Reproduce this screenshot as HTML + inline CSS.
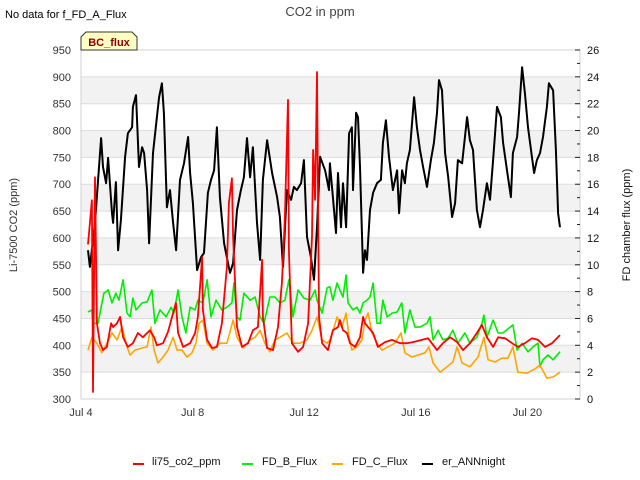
<!DOCTYPE html>
<html><head><meta charset="utf-8"><style>
body{margin:0;background:#fff;}
svg{display:block;font-family:"Liberation Sans","DejaVu Sans",sans-serif;}
</style></head><body>
<svg id="chart" width="640" height="480"></svg>
<script>
const blackDays=[4.25,4.32,4.50,4.72,4.79,4.90,4.97,5.11,5.15,5.25,5.33,5.43,5.58,5.68,5.83,5.86,5.97,6.08,6.19,6.26,6.37,6.44,6.58,6.72,6.80,6.90,6.97,7.08,7.19,7.30,7.41,7.55,7.69,7.84,7.91,8.01,8.16,8.30,8.41,8.55,8.66,8.77,8.87,8.98,9.13,9.27,9.34,9.45,9.59,9.73,9.84,9.95,10.06,10.16,10.31,10.42,10.52,10.67,10.85,11.03,11.13,11.24,11.38,11.53,11.63,11.74,11.89,11.99,12.10,12.24,12.35,12.46,12.57,12.75,12.89,12.92,13.03,13.14,13.21,13.32,13.39,13.50,13.61,13.71,13.75,13.86,13.93,14.00,14.11,14.18,14.25,14.36,14.47,14.61,14.75,14.82,14.93,15.04,15.18,15.33,15.40,15.51,15.61,15.68,15.79,15.94,16.04,16.15,16.26,16.40,16.54,16.65,16.76,16.83,16.94,17.05,17.16,17.30,17.41,17.51,17.66,17.84,17.94,18.05,18.19,18.30,18.41,18.55,18.66,18.77,18.91,19.05,19.13,19.27,19.41,19.48,19.63,19.70,19.81,19.91,20.02,20.16,20.24,20.34,20.45,20.56,20.70,20.77,20.92,21.02,21.10,21.17];
const blackVals=[577,546,628,786,732,702,749,646,628,704,577,633,751,795,806,844,866,732,769,758,689,590,758,825,862,888,833,657,689,628,577,708,739,788,721,665,540,564,572,684,708,726,806,676,590,553,535,553,652,689,713,786,713,769,628,559,708,782,721,676,639,546,689,671,695,689,702,745,602,564,522,620,751,726,689,739,676,609,721,620,702,620,795,806,689,833,825,732,535,577,559,652,684,702,708,777,819,751,689,726,646,726,702,739,764,862,806,764,732,695,745,777,833,894,875,758,713,639,665,745,739,825,782,764,652,620,652,702,671,745,844,825,777,726,676,758,788,833,918,870,806,751,721,745,758,788,844,888,875,764,646,620];
const redDays=[4.25,4.39,4.43,4.50,4.57,4.68,4.79,4.93,5.08,5.15,5.29,5.40,5.51,5.68,5.86,6.04,6.22,6.47,6.62,6.72,6.94,7.12,7.30,7.40,7.48,7.66,7.91,8.09,8.19,8.34,8.37,8.52,8.70,8.87,9.05,9.23,9.30,9.41,9.45,9.59,9.77,9.99,10.16,10.34,10.49,10.52,10.67,10.88,11.06,11.20,11.31,11.42,11.45,11.56,11.78,11.96,12.14,12.28,12.32,12.39,12.46,12.53,12.64,12.85,13.03,13.21,13.28,13.39,13.53,13.64,13.82,14.00,14.11,14.18,14.29,14.47,14.64,14.90,15.15,15.43,15.68,15.90,16.22,16.44,16.76,16.97,17.23,17.48,17.69,17.94,18.19,18.37,18.55,18.77,18.95,19.20,19.45,19.66,19.91,20.16,20.38,20.63,20.88,21.17];
const redVals=[588,670,313,713,441,404,391,397,441,434,441,453,415,397,404,423,415,428,415,400,404,425,460,479,423,397,404,423,453,564,466,410,395,397,441,546,665,711,602,434,397,404,428,434,559,453,395,391,434,516,639,857,577,404,388,397,441,602,764,671,909,453,404,391,428,434,447,428,423,404,397,415,453,441,434,423,397,406,410,404,404,406,410,413,391,404,415,406,391,404,423,438,415,397,415,413,404,397,404,413,410,397,404,419];
const greenDays=[4.25,4.39,4.43,4.61,4.82,4.97,5.11,5.25,5.36,5.51,5.65,5.76,5.86,5.97,6.19,6.37,6.54,6.65,6.83,7.05,7.23,7.33,7.48,7.62,7.76,7.91,8.09,8.19,8.37,8.52,8.66,8.84,9.05,9.23,9.41,9.48,9.59,9.70,9.84,10.06,10.24,10.42,10.56,10.77,10.95,11.13,11.31,11.45,11.60,11.78,11.99,12.21,12.39,12.46,12.64,12.82,12.92,13.03,13.18,13.28,13.39,13.50,13.57,13.75,13.89,14.00,14.11,14.25,14.36,14.47,14.61,14.72,14.82,14.97,15.15,15.33,15.50,15.61,15.79,15.97,16.15,16.40,16.51,16.62,16.80,16.97,17.15,17.33,17.51,17.76,17.94,18.19,18.37,18.44,18.55,18.77,18.95,19.12,19.38,19.48,19.63,19.81,20.02,20.20,20.38,20.45,20.56,20.74,20.92,21.17];
const greenVals=[462,466,441,441,497,503,479,497,484,522,460,453,488,466,479,481,503,441,466,453,471,460,503,453,423,471,466,484,479,522,453,484,466,471,479,516,453,447,497,484,490,453,441,490,490,479,484,522,453,503,488,484,503,484,460,507,509,484,516,503,490,531,479,466,471,460,479,484,490,516,441,441,484,453,460,462,479,423,466,434,434,441,453,410,428,410,413,428,404,423,404,415,441,456,415,447,423,423,434,438,391,404,388,397,404,360,373,382,373,388];
const orangeDays=[4.25,4.39,4.57,4.75,4.93,5.11,5.29,5.47,5.65,5.76,5.94,6.19,6.37,6.51,6.62,6.76,6.94,7.12,7.30,7.44,7.62,7.80,7.98,8.12,8.23,8.37,8.52,8.73,8.98,9.23,9.45,9.59,9.81,10.06,10.24,10.42,10.59,10.77,10.95,11.13,11.38,11.60,11.85,12.10,12.28,12.46,12.64,12.82,12.92,13.07,13.18,13.35,13.50,13.61,13.71,13.89,14.07,14.18,14.29,14.43,14.61,14.79,15.00,15.25,15.47,15.61,15.86,16.08,16.33,16.47,16.62,16.87,17.12,17.33,17.48,17.66,17.94,18.23,18.44,18.59,18.84,19.09,19.30,19.48,19.66,19.98,20.27,20.45,20.70,20.92,21.17];
const orangeVals=[391,415,404,386,404,423,410,434,397,382,391,395,397,434,391,367,378,391,415,391,391,378,386,404,441,447,404,391,404,404,447,415,395,410,415,428,404,388,410,415,423,404,404,410,428,453,410,404,410,434,453,434,460,415,391,397,410,447,460,423,404,391,397,404,423,386,378,382,386,397,367,350,360,369,397,367,360,378,415,373,369,376,376,397,350,348,356,363,339,341,350];
const leftTicks=[300,350,400,450,500,550,600,650,700,750,800,850,900,950];
const rightTicks=[0,2,4,6,8,10,12,14,16,18,20,22,24,26];
const xTickDays=[4,8,12,16,20];
const xTickLabels=["Jul 4","Jul 8","Jul 12","Jul 16","Jul 20"];

const PL=81,PR=580,PT=50,PB=399;
const xS=d=>PL+(d-4)*27.9;
const yL=v=>PB-(v-300)*(PB-PT)/650;
const yR=v=>PB-v*(PB-PT)/26;
const svg=document.getElementById('chart');
const NS='http://www.w3.org/2000/svg';
function mk(tag,attrs,parent){const e=document.createElementNS(NS,tag);for(const k in attrs)e.setAttribute(k,attrs[k]);(parent||svg).appendChild(e);return e;}

// bands & grid
for(let i=0;i<leftTicks.length-1;i++){
  const lo=leftTicks[i],hi=leftTicks[i+1];
  if(i%2===1){const r=mk('rect',{x:PL,y:yL(hi),width:PR-PL,height:yL(lo)-yL(hi),fill:'#f2f2f2'});
  
  }
}
leftTicks.forEach(v=>{
  const l=mk('line',{x1:PL,x2:PR,y1:yL(v),y2:yL(v),stroke:'#dcdcdc','stroke-width':1});
  
  
  const t=mk('text',{x:71,y:yL(v)+4,'text-anchor':'end','font-size':11,fill:'#333'});
  t.textContent=v;
  
  
});
const frame=mk('rect',{x:PL,y:PT,width:PR-PL,height:PB-PT,fill:'none',stroke:'#d0d0d0'});


rightTicks.forEach(v=>{
  const t=mk('text',{x:587,y:yR(v)+4,'font-size':11,fill:'#111'});
  t.textContent=v;
  
  
  const tk=mk('line',{x1:575,x2:580,y1:yR(v),y2:yR(v),stroke:'#222'});
  
  
  if(v<26){const m=mk('line',{x1:577,x2:580,y1:yR(v+1),y2:yR(v+1),stroke:'#222'});
  
  }
});
xTickDays.forEach((d,i)=>{
  const t=mk('text',{x:xS(d),y:416,'text-anchor':'middle','font-size':11,fill:'#333'});
  t.textContent=xTickLabels[i];
  
  
});
function series(days,vals,color,w,name){
  const pts=days.map((d,i)=>xS(d).toFixed(1)+','+yL(vals[i]).toFixed(1)).join(' ');
  const p=mk('polyline',{points:pts,fill:'none',stroke:color,'stroke-width':w,'stroke-linejoin':'round'});
  
  
}
series(blackDays,blackVals,'#000',2,'er-annnight-line');
series(greenDays,greenVals,'#00ee00',1.6,'fd-b-flux-line');
series(orangeDays,orangeVals,'#ffa500',1.6,'fd-c-flux-line');
series(redDays,redVals,'#ff0000',1.8,'li75-co2-line');
</script>
<svg style="position:absolute;left:0;top:0" width="640" height="480">
<text x="5" y="18" font-size="11" fill="#000">No data for f_FD_A_Flux</text>
<text x="320" y="16" font-size="13" fill="#444" text-anchor="middle">CO2 in ppm</text>
<g>
<polygon points="81,50 81,37 86,32 132,32 137,37 137,50" fill="#ffffc4" stroke="#333" stroke-width="1"/>
<text x="109" y="46" font-size="11" font-weight="bold" fill="#8b0000" text-anchor="middle">BC_flux</text>
</g>
<text transform="translate(17,225) rotate(-90)" font-size="11" fill="#333" text-anchor="middle">Li-7500 CO2 (ppm)</text>
<text transform="translate(630,225) rotate(-90)" font-size="11" fill="#111" text-anchor="middle">FD chamber flux (ppm)</text>
<g>
<g><line x1="133" x2="144" y1="464" y2="464" stroke="#ff0000" stroke-width="2"/><text x="152" y="465" font-size="11" fill="#111">li75_co2_ppm</text></g>
<g><line x1="242" x2="253" y1="464" y2="464" stroke="#00ee00" stroke-width="2"/><text x="262" y="465" font-size="11" fill="#111">FD_B_Flux</text></g>
<g><line x1="332" x2="343" y1="464" y2="464" stroke="#ffa500" stroke-width="2"/><text x="352" y="465" font-size="11" fill="#111">FD_C_Flux</text></g>
<g><line x1="422" x2="433" y1="464" y2="464" stroke="#000" stroke-width="2"/><text x="442" y="465" font-size="11" fill="#111">er_ANNnight</text></g>
</g>
</svg>
</body></html>
